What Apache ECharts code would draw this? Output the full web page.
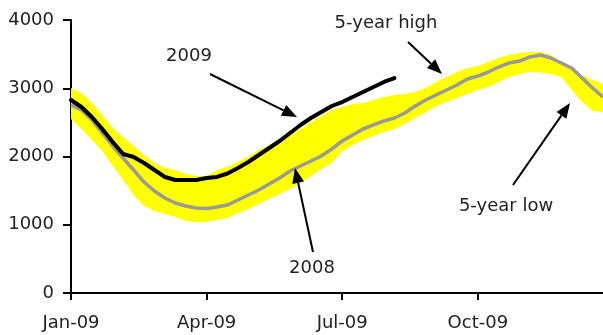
<!DOCTYPE html>
<html>
<head>
<meta charset="utf-8">
<script src="https://cdn.jsdelivr.net/npm/echarts@6/dist/echarts.min.js"></script>
<style>
  html, body { margin: 0; padding: 0; background: #fff; }
  #main { width: 603px; height: 335px; }
</style>
</head>
<body>
<div id="main"></div>
<script>
// weekly points, Jan to Dec
let weeks = [];
for (let i = 0; i < 52; i++) weeks.push(i);

let quarterLabels = { 0: 'Jan-09', 13: 'Apr-09', 26: 'Jul-09', 39: 'Oct-09' };

let low5 = [2549, 2403, 2242, 2081, 1861, 1656, 1436, 1275, 1201, 1158, 1114, 1055, 1040,
    1040, 1070, 1099, 1172, 1231, 1304, 1377, 1451, 1524, 1612, 1714, 1817, 1905,
    2081, 2168, 2242, 2300, 2359, 2403, 2476, 2564, 2652, 2740, 2798, 2857, 2916,
    2974, 3018, 3092, 3165, 3209, 3238, 3231, 3209, 3165, 2974, 2798, 2667, 2652];

let high5 = [3004, 2930, 2784, 2608, 2418, 2286, 2154, 2022, 1905, 1832, 1802, 1744, 1714,
    1714, 1802, 1851, 1924, 1997, 2095, 2168, 2242, 2315, 2403, 2505, 2593, 2681,
    2725, 2769, 2784, 2828, 2872, 2901, 2916, 2945, 3004, 3092, 3165, 3238, 3297,
    3326, 3385, 3443, 3487, 3516, 3531, 3531, 3487, 3385, 3267, 3194, 3121, 3062];

let y2008 = [2755, 2681, 2535, 2344, 2154, 1978, 1802, 1626, 1495, 1392, 1319, 1275, 1245,
    1238, 1260, 1289, 1363, 1436, 1509, 1597, 1685, 1788, 1861, 1934, 2007, 2110,
    2227, 2315, 2403, 2462, 2520, 2564, 2637, 2740, 2828, 2901, 2974, 3048, 3136,
    3179, 3238, 3311, 3370, 3399, 3458, 3487, 3443, 3370, 3297, 3150, 3004, 2872];

let y2009 = [2828, 2725, 2579, 2403, 2212, 2037, 1993, 1905, 1802, 1700, 1656, 1656, 1656,
    1685, 1700, 1751, 1832, 1919, 2022, 2125, 2227, 2344, 2462, 2564, 2652, 2740,
    2798, 2872, 2945, 3018, 3092, 3150];

let band = high5.map((v, i) => v - low5[i]);

let font = '"DejaVu Sans", sans-serif';
let textColor = '#222';
let fs = 18;

function arrow(x1, y1, x2, y2) {
    let dx = x2 - x1, dy = y2 - y1;
    let len = Math.sqrt(dx * dx + dy * dy);
    let ux = dx / len, uy = dy / len;
    let hl = 15, hw = 6;
    let bx = x2 - ux * hl, by = y2 - uy * hl;
    return [
        { type: 'line', shape: { x1: x1, y1: y1, x2: bx, y2: by },
          style: { stroke: '#000', lineWidth: 2 }, z: 100 },
        { type: 'polygon', shape: { points: [[x2, y2], [bx - uy * hw, by + ux * hw], [bx + uy * hw, by - ux * hw]] },
          style: { fill: '#000' }, z: 100 }
    ];
}

function label(text, x, y) {
    return { type: 'text', x: x, y: y, z: 100,
        style: { text: text, font: fs + 'px ' + font, fill: textColor, align: 'center', verticalAlign: 'middle' } };
}

let chart = echarts.init(document.getElementById('main'));
let option = {
    backgroundColor: '#fff',
    animation: false,
    grid: { left: 71, right: 0, top: 20, bottom: 42 },
    xAxis: {
        type: 'category',
        data: weeks,
        boundaryGap: false,
        axisLine: { lineStyle: { color: '#000', width: 2 } },
        axisTick: { length: 7, lineStyle: { color: '#000', width: 2 },
            interval: (i) => quarterLabels[i] !== undefined },
        axisLabel: { margin: 21, fontSize: fs, fontFamily: font, color: textColor,
            interval: (i) => quarterLabels[i] !== undefined,
            formatter: (v) => quarterLabels[v] || '' },
        splitLine: { show: false }
    },
    yAxis: {
        type: 'value',
        min: 0, max: 4000, interval: 1000,
        axisLine: { show: true, lineStyle: { color: '#000', width: 2 } },
        axisTick: { show: true, length: 8, lineStyle: { color: '#000', width: 2 } },
        axisLabel: { margin: 17, fontSize: fs, fontFamily: font, color: textColor,
            formatter: (v) => String(v) },
        splitLine: { show: false }
    },
    series: [
        { name: 'low', type: 'line', stack: 'band', data: low5, symbol: 'none',
          lineStyle: { opacity: 0 }, silent: true },
        { name: 'range', type: 'line', stack: 'band', data: band, symbol: 'none',
          lineStyle: { opacity: 0 }, areaStyle: { color: '#ffff00', opacity: 1 }, silent: true },
        { name: '2008', type: 'line', data: y2008, symbol: 'none',
          lineStyle: { color: '#999999', width: 3.5, join: 'round' } },
        { name: '2009', type: 'line', data: y2009, symbol: 'none',
          lineStyle: { color: '#000', width: 4, cap: 'round', join: 'round' } }
    ],
    graphic: [].concat(
        label('2009', 189, 56),
        arrow(210, 74, 297, 117),
        label('5-year high', 386, 23),
        arrow(408, 42, 442, 74),
        label('5-year low', 506, 206),
        arrow(513, 185, 570, 103),
        label('2008', 312, 268),
        arrow(313, 252, 295, 168)
    )
};
chart.setOption(option);
</script>
</body>
</html>
